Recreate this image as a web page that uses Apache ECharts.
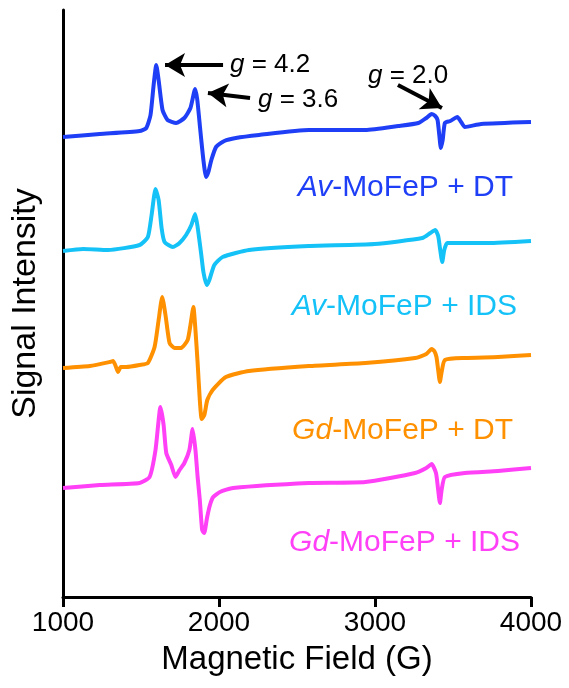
<!DOCTYPE html>
<html>
<head>
<meta charset="utf-8">
<script src="https://cdn.jsdelivr.net/npm/echarts@6/dist/echarts.min.js"></script>
<style>
  html, body { margin: 0; padding: 0; background: #fff; }
  #chart { width: 569px; height: 688px; }
</style>
</head>
<body>
<div id="chart"></div>
<script>
// EPR spectra, [field (G), offset intensity (a.u.)]
var avDT = [
  [1000, 460], [1236, 463], [1491, 466], [1534, 469], [1561, 482], [1581, 512],
  [1598, 532], [1613, 517], [1638, 487], [1670, 477], [1725, 474], [1778, 479],
  [1817, 489], [1847, 508], [1861, 497], [1880, 467], [1900, 437], [1917, 420],
  [1932, 425], [1951, 437], [1981, 450], [2034, 456], [2108, 459], [2257, 462],
  [2576, 467], [2938, 467], [3150, 471], [3278, 474], [3329, 479], [3363, 483],
  [3386, 481], [3401, 477], [3412, 462], [3422, 449], [3434, 457], [3448, 474],
  [3482, 476], [3528, 480], [3552, 475], [3576, 470], [3680, 473], [4000, 475]
];
var avIDS = [
  [1000, 346], [1130, 348], [1289, 347], [1491, 352], [1544, 360], [1568, 382],
  [1593, 408], [1613, 397], [1632, 369], [1651, 355], [1704, 350], [1747, 354],
  [1789, 362], [1823, 372], [1847, 383], [1861, 372], [1885, 344], [1900, 325],
  [1921, 312], [1938, 317], [1970, 332], [2023, 340], [2193, 347], [2576, 351],
  [2997, 353], [3303, 359], [3354, 364], [3386, 367], [3405, 361], [3418, 347],
  [3431, 335], [3444, 347], [3463, 354], [3533, 354], [3724, 354], [4000, 356]
];
var gdDT = [
  [1000, 229], [1172, 231], [1300, 235], [1321, 236], [1335, 232], [1353, 225],
  [1370, 230], [1406, 230], [1491, 232], [1544, 234], [1587, 250], [1613, 277],
  [1636, 300], [1657, 282], [1683, 254], [1715, 249], [1757, 249], [1799, 257],
  [1817, 272], [1836, 290], [1849, 267], [1863, 234], [1877, 197], [1889, 178],
  [1906, 182], [1925, 197], [1959, 207], [2044, 220], [2193, 226], [2576, 231],
  [2938, 234], [3257, 239], [3329, 243], [3363, 248], [3380, 246], [3394, 240],
  [3405, 227], [3416, 215], [3427, 225], [3448, 237], [3576, 239], [3788, 240],
  [4000, 242]
];
var gdIDS = [
  [1000, 109], [1236, 112], [1491, 114], [1555, 120], [1593, 147], [1625, 190],
  [1645, 172], [1662, 144], [1694, 132], [1721, 120], [1747, 127], [1778, 134],
  [1810, 147], [1831, 168], [1849, 147], [1863, 120], [1877, 97], [1892, 67],
  [1905, 64], [1923, 79], [1942, 92], [1963, 100], [2006, 105], [2090, 109],
  [2576, 114], [2938, 115], [3257, 124], [3329, 129], [3363, 133], [3391, 124],
  [3405, 107], [3416, 94], [3427, 107], [3448, 120], [3576, 124], [3788, 126],
  [4000, 129]
];

var seriesNames = ['Av-MoFeP + DT', 'Av-MoFeP + IDS', 'Gd-MoFeP + DT', 'Gd-MoFeP + IDS'];
var colors = ['#1f3ff6', '#14c2f7', '#ff9100', '#ff40f6'];
var xTicks = [1000, 2000, 3000, 4000];

// arrows: [from, to] in data coords
var gArrows = [
  [[2026, 532], [1654, 532]],
  [[2199, 499], [1929, 504]],
  [[3147, 512], [3429, 489]]
];

var font = "'Liberation Sans', Arial, sans-serif";
var chart = echarts.init(document.getElementById('chart'));

function spectrum(name, data, color) {
  return {
    name: name,
    type: 'line',
    data: data,
    showSymbol: false,
    smooth: 0.18,
    lineStyle: { color: color, width: 4, join: 'round' },
    z: 3
  };
}

var series = [
  spectrum(seriesNames[0], avDT, colors[0]),
  spectrum(seriesNames[1], avIDS, colors[1]),
  spectrum(seriesNames[2], gdDT, colors[2]),
  spectrum(seriesNames[3], gdIDS, colors[3])
];
series[0].markLine = {
  silent: true,
  symbol: ['none', 'arrow'],
  symbolSize: [18, 20],
  label: { show: false },
  lineStyle: { color: '#000', width: 4, type: 'solid' },
  data: gArrows.map(function (a) {
    return [{ coord: a[0] }, { coord: a[1] }];
  })
};

function seriesLabel(text, x, y, color) {
  var parts = text.split('-');
  return {
    type: 'text',
    x: x, y: y,
    style: {
      text: '{i|' + parts[0] + '}{n|-' + parts.slice(1).join('-') + '}',
      align: 'right',
      verticalAlign: 'middle',
      rich: {
        i: { fontStyle: 'italic', fontSize: 30, fontFamily: font, fill: color },
        n: { fontSize: 30, fontFamily: font, fill: color }
      }
    }
  };
}

function gLabel(val, x, y) {
  return {
    type: 'text',
    x: x, y: y,
    style: {
      text: '{i|g}{n| = ' + val + '}',
      align: 'left',
      verticalAlign: 'middle',
      rich: {
        i: { fontStyle: 'italic', fontSize: 26, fontFamily: font, fill: '#000' },
        n: { fontSize: 26, fontFamily: font, fill: '#000' }
      }
    }
  };
}

var option = {
  animation: false,
  backgroundColor: '#fff',
  grid: { left: 63, right: 38, top: 10, bottom: 91 },
  xAxis: {
    type: 'value',
    min: 1000, max: 4000, interval: 1000,
    name: 'Magnetic Field (G)',
    nameLocation: 'middle',
    nameGap: 46,
    nameTextStyle: { fontSize: 33, fontFamily: font, color: '#000' },
    axisLine: { lineStyle: { color: '#000', width: 3 } },
    axisTick: { show: true, length: 10, lineStyle: { color: '#000', width: 3 } },
    axisLabel: {
      fontSize: 28, fontFamily: font, color: '#000', margin: 12,
      formatter: function (v) { return xTicks.indexOf(v) >= 0 ? String(v) : ''; }
    },
    splitLine: { show: false }
  },
  yAxis: {
    type: 'value',
    min: 0, max: 587,
    name: 'Signal Intensity',
    nameLocation: 'middle',
    nameGap: 20,
    nameTextStyle: { fontSize: 34, fontFamily: font, color: '#000' },
    axisLine: { show: true, lineStyle: { color: '#000', width: 3 } },
    axisTick: { show: false },
    axisLabel: { show: false },
    splitLine: { show: false }
  },
  graphic: [
    gLabel('4.2', 230, 65),
    gLabel('3.6', 258, 100),
    gLabel('2.0', 368, 76),
    seriesLabel(seriesNames[0], 513, 188, colors[0]),
    seriesLabel(seriesNames[1], 517, 307, colors[1]),
    seriesLabel(seriesNames[2], 513, 431, colors[2]),
    seriesLabel(seriesNames[3], 520, 543, colors[3])
  ],
  series: series
};

chart.setOption(option);
</script>
</body>
</html>
